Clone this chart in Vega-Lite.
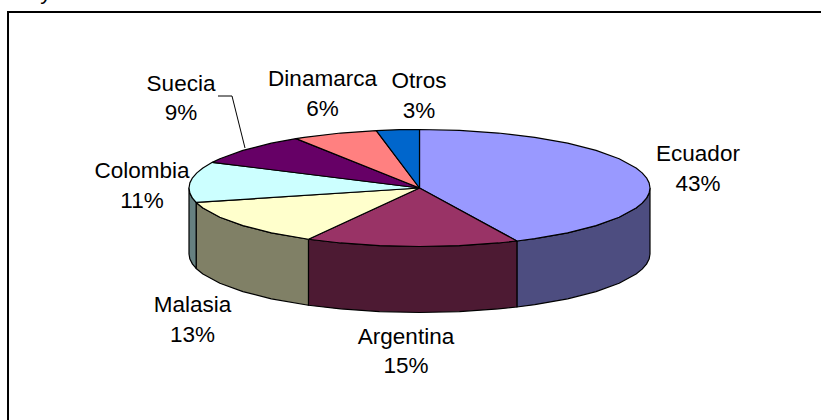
{
"$schema":"https://vega.github.io/schema/vega-lite/v6.json",
"width":821,"height":420,"padding":0,"autosize":{"type":"none"},"background":"white",
"config":{"view":{"stroke":null}},
"datasets":{
"caras":[
{"p":"Ecuador lado","n":1,"x":1,"y":0},{"p":"Ecuador lado","n":2,"x":0.9962,"y":0.0872},{"p":"Ecuador lado","n":3,"x":0.9848,"y":0.1736},{"p":"Ecuador lado","n":4,"x":0.9659,"y":0.2588},{"p":"Ecuador lado","n":5,"x":0.9397,"y":0.342},{"p":"Ecuador lado","n":6,"x":0.866,"y":0.5},{"p":"Ecuador lado","n":7,"x":0.766,"y":0.6428},{"p":"Ecuador lado","n":8,"x":0.6428,"y":0.766},{"p":"Ecuador lado","n":9,"x":0.5,"y":0.866},{"p":"Ecuador lado","n":10,"x":0.4226,"y":0.9063},
{"p":"Ecuador lado","n":11,"x":0.4226,"y":2.0343},{"p":"Ecuador lado","n":12,"x":0.5,"y":1.994},{"p":"Ecuador lado","n":13,"x":0.6428,"y":1.894},{"p":"Ecuador lado","n":14,"x":0.766,"y":1.7708},{"p":"Ecuador lado","n":15,"x":0.866,"y":1.628},{"p":"Ecuador lado","n":16,"x":0.9397,"y":1.47},{"p":"Ecuador lado","n":17,"x":0.9659,"y":1.3868},{"p":"Ecuador lado","n":18,"x":0.9848,"y":1.3016},{"p":"Ecuador lado","n":19,"x":0.9962,"y":1.2152},{"p":"Ecuador lado","n":20,"x":1,"y":1.128},{"p":"Ecuador lado","n":21,"x":1,"y":0},

{"p":"Argentina lado","n":1,"x":0.4226,"y":0.9063},{"p":"Argentina lado","n":2,"x":0.342,"y":0.9397},{"p":"Argentina lado","n":3,"x":0.1736,"y":0.9848},{"p":"Argentina lado","n":4,"x":0,"y":1},{"p":"Argentina lado","n":5,"x":-0.1736,"y":0.9848},{"p":"Argentina lado","n":6,"x":-0.342,"y":0.9397},{"p":"Argentina lado","n":7,"x":-0.4818,"y":0.8763},
{"p":"Argentina lado","n":8,"x":-0.4818,"y":2.0043},{"p":"Argentina lado","n":9,"x":-0.342,"y":2.0677},{"p":"Argentina lado","n":10,"x":-0.1736,"y":2.1128},{"p":"Argentina lado","n":11,"x":0,"y":2.128},{"p":"Argentina lado","n":12,"x":0.1736,"y":2.1128},{"p":"Argentina lado","n":13,"x":0.342,"y":2.0677},{"p":"Argentina lado","n":14,"x":0.4226,"y":2.0343},{"p":"Argentina lado","n":15,"x":0.4226,"y":0.9063},

{"p":"Malasia lado","n":1,"x":-0.4818,"y":0.8763},{"p":"Malasia lado","n":2,"x":-0.6428,"y":0.766},{"p":"Malasia lado","n":3,"x":-0.766,"y":0.6428},{"p":"Malasia lado","n":4,"x":-0.866,"y":0.5},{"p":"Malasia lado","n":5,"x":-0.9397,"y":0.342},{"p":"Malasia lado","n":6,"x":-0.969,"y":0.247},
{"p":"Malasia lado","n":7,"x":-0.969,"y":1.375},{"p":"Malasia lado","n":8,"x":-0.9397,"y":1.47},{"p":"Malasia lado","n":9,"x":-0.866,"y":1.628},{"p":"Malasia lado","n":10,"x":-0.766,"y":1.7708},{"p":"Malasia lado","n":11,"x":-0.6428,"y":1.894},{"p":"Malasia lado","n":12,"x":-0.4818,"y":2.0043},{"p":"Malasia lado","n":13,"x":-0.4818,"y":0.8763},

{"p":"Colombia lado","n":1,"x":-0.969,"y":0.247},{"p":"Colombia lado","n":2,"x":-0.9848,"y":0.1736},{"p":"Colombia lado","n":3,"x":-0.9962,"y":0.0872},{"p":"Colombia lado","n":4,"x":-1,"y":0},
{"p":"Colombia lado","n":5,"x":-1,"y":1.128},{"p":"Colombia lado","n":6,"x":-0.9962,"y":1.2152},{"p":"Colombia lado","n":7,"x":-0.9848,"y":1.3016},{"p":"Colombia lado","n":8,"x":-0.969,"y":1.375},{"p":"Colombia lado","n":9,"x":-0.969,"y":0.247},

{"p":"Ecuador","n":1,"x":0,"y":0},{"p":"Ecuador","n":2,"x":0,"y":-1},{"p":"Ecuador","n":3,"x":0.1736,"y":-0.9848},{"p":"Ecuador","n":4,"x":0.342,"y":-0.9397},{"p":"Ecuador","n":5,"x":0.5,"y":-0.866},{"p":"Ecuador","n":6,"x":0.6428,"y":-0.766},{"p":"Ecuador","n":7,"x":0.766,"y":-0.6428},{"p":"Ecuador","n":8,"x":0.866,"y":-0.5},{"p":"Ecuador","n":9,"x":0.9397,"y":-0.342},{"p":"Ecuador","n":10,"x":0.9659,"y":-0.2588},{"p":"Ecuador","n":11,"x":0.9848,"y":-0.1736},{"p":"Ecuador","n":12,"x":0.9962,"y":-0.0872},{"p":"Ecuador","n":13,"x":1,"y":0},{"p":"Ecuador","n":14,"x":0.9962,"y":0.0872},{"p":"Ecuador","n":15,"x":0.9848,"y":0.1736},{"p":"Ecuador","n":16,"x":0.9659,"y":0.2588},{"p":"Ecuador","n":17,"x":0.9397,"y":0.342},{"p":"Ecuador","n":18,"x":0.866,"y":0.5},{"p":"Ecuador","n":19,"x":0.766,"y":0.6428},{"p":"Ecuador","n":20,"x":0.6428,"y":0.766},{"p":"Ecuador","n":21,"x":0.5,"y":0.866},{"p":"Ecuador","n":22,"x":0.4226,"y":0.9063},{"p":"Ecuador","n":23,"x":0,"y":0},

{"p":"Argentina","n":1,"x":0,"y":0},{"p":"Argentina","n":2,"x":0.4226,"y":0.9063},{"p":"Argentina","n":3,"x":0.342,"y":0.9397},{"p":"Argentina","n":4,"x":0.1736,"y":0.9848},{"p":"Argentina","n":5,"x":0,"y":1},{"p":"Argentina","n":6,"x":-0.1736,"y":0.9848},{"p":"Argentina","n":7,"x":-0.342,"y":0.9397},{"p":"Argentina","n":8,"x":-0.4818,"y":0.8763},{"p":"Argentina","n":9,"x":0,"y":0},

{"p":"Malasia","n":1,"x":0,"y":0},{"p":"Malasia","n":2,"x":-0.4818,"y":0.8763},{"p":"Malasia","n":3,"x":-0.6428,"y":0.766},{"p":"Malasia","n":4,"x":-0.766,"y":0.6428},{"p":"Malasia","n":5,"x":-0.866,"y":0.5},{"p":"Malasia","n":6,"x":-0.9397,"y":0.342},{"p":"Malasia","n":7,"x":-0.969,"y":0.247},{"p":"Malasia","n":8,"x":0,"y":0},

{"p":"Colombia","n":1,"x":0,"y":0},{"p":"Colombia","n":2,"x":-0.969,"y":0.247},{"p":"Colombia","n":3,"x":-0.9848,"y":0.1736},{"p":"Colombia","n":4,"x":-0.9962,"y":0.0872},{"p":"Colombia","n":5,"x":-1,"y":0},{"p":"Colombia","n":6,"x":-0.9962,"y":-0.0872},{"p":"Colombia","n":7,"x":-0.9848,"y":-0.1736},{"p":"Colombia","n":8,"x":-0.9659,"y":-0.2588},{"p":"Colombia","n":9,"x":-0.9397,"y":-0.342},{"p":"Colombia","n":10,"x":-0.8988,"y":-0.4384},{"p":"Colombia","n":11,"x":0,"y":0},

{"p":"Suecia","n":1,"x":0,"y":0},{"p":"Suecia","n":2,"x":-0.8988,"y":-0.4384},{"p":"Suecia","n":3,"x":-0.866,"y":-0.5},{"p":"Suecia","n":4,"x":-0.766,"y":-0.6428},{"p":"Suecia","n":5,"x":-0.6428,"y":-0.766},{"p":"Suecia","n":6,"x":-0.5358,"y":-0.8443},{"p":"Suecia","n":7,"x":0,"y":0},

{"p":"Dinamarca","n":1,"x":0,"y":0},{"p":"Dinamarca","n":2,"x":-0.5358,"y":-0.8443},{"p":"Dinamarca","n":3,"x":-0.5,"y":-0.866},{"p":"Dinamarca","n":4,"x":-0.342,"y":-0.9397},{"p":"Dinamarca","n":5,"x":-0.1874,"y":-0.9823},{"p":"Dinamarca","n":6,"x":0,"y":0},

{"p":"Otros","n":1,"x":0,"y":0},{"p":"Otros","n":2,"x":-0.1874,"y":-0.9823},{"p":"Otros","n":3,"x":-0.0872,"y":-0.9962},{"p":"Otros","n":4,"x":0,"y":-1},{"p":"Otros","n":5,"x":0,"y":0}
],
"lineas":[
{"p":"marco","n":1,"x":-1.7852,"y":3.9658},{"p":"marco","n":2,"x":-1.7852,"y":-3.0085},{"p":"marco","n":3,"x":1.7419,"y":-3.0085}
],
"guia":[
{"p":"guia","n":1,"x":-0.8742,"y":-1.5726},{"p":"guia","n":2,"x":-0.8134,"y":-1.5726},{"p":"guia","n":3,"x":-0.757,"y":-0.6838}
],
"etiquetas":[
{"pais":"Ecuador","pct":43,"t":"Ecuador\n43%","x":1.2082,"y":-0.5812},
{"pais":"Argentina","pct":15,"t":"Argentina\n15%","x":-0.0586,"y":2.547},
{"pais":"Malasia","pct":13,"t":"Malasia\n13%","x":-0.9848,"y":2.0},
{"pais":"Colombia","pct":11,"t":"Colombia\n11%","x":-1.2039,"y":-0.2906},
{"pais":"Suecia","pct":9,"t":"Suecia\n9%","x":-1.0347,"y":-1.7778},
{"pais":"Dinamarca","pct":6,"t":"Dinamarca\n6%","x":-0.4208,"y":-1.8632},
{"pais":"Otros","pct":3,"t":"Otros\n3%","x":-0.0022,"y":-1.829}
],
"recorte":[{"t":"y","x":-1.6204,"y":-3.2393}]
},
"encoding":{
  "x":{"field":"x","type":"quantitative","scale":{"domain":[-1.81996,1.74187],"nice":false,"zero":false},"axis":null},
  "y":{"field":"y","type":"quantitative","scale":{"domain":[-3.21368,3.96581],"reverse":true,"nice":false,"zero":false},"axis":null}
},
"layer":[
{"data":{"name":"caras"},
 "mark":{"type":"line","stroke":"#000000","strokeWidth":1.2,"strokeJoin":"round"},
 "encoding":{
  "order":{"field":"n","type":"quantitative"},
  "detail":{"field":"p"},
  "fill":{"field":"p","type":"nominal","legend":null,"scale":{
   "domain":["Ecuador","Argentina","Malasia","Colombia","Suecia","Dinamarca","Otros","Ecuador lado","Argentina lado","Malasia lado","Colombia lado"],
   "range":["#9999FF","#993366","#FFFFCC","#CCFFFF","#660066","#FF8080","#0066CC","#4D4D80","#4D1A33","#808066","#668080"]}}
 }},
{"data":{"name":"lineas"},
 "mark":{"type":"line","stroke":"#000000","strokeWidth":2,"fill":null},
 "encoding":{"order":{"field":"n","type":"quantitative"}}},
{"data":{"name":"guia"},
 "mark":{"type":"line","stroke":"#000000","strokeWidth":1,"fill":null},
 "encoding":{"order":{"field":"n","type":"quantitative"}}},
{"data":{"name":"etiquetas"},
 "mark":{"type":"text","font":"Liberation Sans","fontSize":22.5,"lineBreak":"\n","lineHeight":29.5,"align":"center","baseline":"middle","color":"#000000"},
 "encoding":{"text":{"field":"t"}}},
{"data":{"name":"recorte"},
 "mark":{"type":"text","font":"Liberation Sans","fontSize":22.5,"align":"center","baseline":"alphabetic","color":"#000000"},
 "encoding":{"text":{"field":"t"}}}
]
}
